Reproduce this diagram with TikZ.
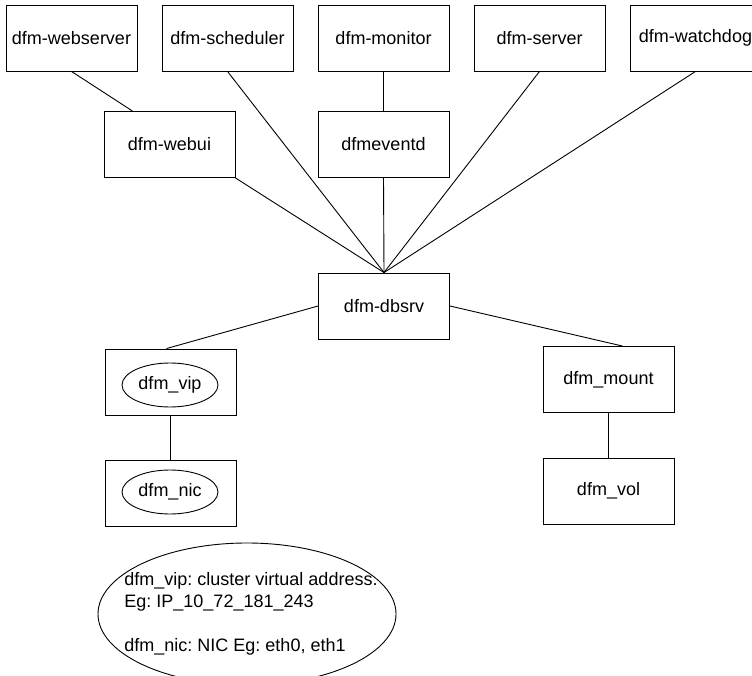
\documentclass[tikz,border=0pt]{standalone}
\usepackage{fontspec}
\setmainfont{Liberation Sans}
\frenchspacing
\usetikzlibrary{shapes.geometric}

\begin{document}
\begin{tikzpicture}[x=1pt,y=-1pt,line width=0.9pt,
  font=\fontsize{18}{22}\selectfont,
  box/.style={draw,rectangle,minimum width=131pt,minimum height=66pt,inner sep=0pt},
  oval/.style={draw,ellipse,minimum width=96pt,minimum height=44pt,inner sep=0pt},
  node distance=156pt]
\clip (0,0) rectangle (752,676);
\node [box] (webserver) at (71.5,38) {dfm-webserver};
\node [box,right of=webserver] (scheduler) {dfm-scheduler};
\node [box,right of=scheduler] (monitor) {dfm-monitor};
\node [box,right of=monitor] (server) {dfm-server};
\node [box,right of=server] (watchdog) {dfm-watchdog};
\node [box] (webui) at (169.5,144.5) {dfm-webui};
\node [box] (eventd) at (383.5,144.5) {dfmeventd};
\node [box] (dbsrv) at (384,306) {dfm-dbsrv};
\node [box] (vip) at (170.5,382) {};
\node [oval] (vipin) at (170,385) {dfm\_vip};
\node [box] (nic) at (170.5,493.5) {};
\node [oval] (nicin) at (170,492) {dfm\_nic};
\node [box] (mount) at (608.5,379.5) {dfm\_mount};
\node [box] (vol) at (608.5,491) {dfm\_vol};
% note
\node [align=left,inner sep=0pt] (note) at (251,614)
  {dfm\_vip: cluster virtual address.\\Eg: IP\_10\_72\_181\_243\\[22pt]dfm\_nic: NIC Eg: eth0, eth1};
\draw (247,614) ellipse (149 and 71);
\draw (webserver.south) -- ([xshift=-37pt]webui.north);
\draw (webui.south east) -- (dbsrv.north);
\draw (scheduler.south) -- (dbsrv.north);
\draw (monitor.south) -- (eventd.north);
\draw (eventd.south) -- (dbsrv.north);
\draw (server.south) -- (dbsrv.north);
\draw (watchdog.south) -- (dbsrv.north);
\draw (dbsrv.west) -- ([xshift=-4pt]vip.north);
\draw (dbsrv.east) -- ([xshift=14pt]mount.north);
\draw (vip.south) -- (nic.north);
\draw (mount.south) -- (vol.north);
\end{tikzpicture}
\end{document}
